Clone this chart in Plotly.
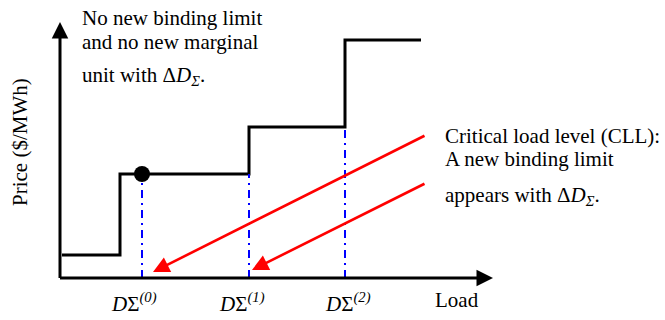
import plotly.graph_objects as go

# Supply-curve steps (load breakpoints and price levels, arbitrary units)
step_load = [2, 60, 189, 285, 361]
step_price = [23, 104, 151, 238, 238]

# Current operating point
op_load = [82]
op_price = [104]

# Critical load levels and the price level just below each one
cll_load = [82, 189, 285]
cll_price = [104, 104, 151]
cll_labels = ["<i>D</i>Σ<sup><i>(0)</i></sup>",
              "<i>D</i>Σ<sup><i>(1)</i></sup>",
              "<i>D</i>Σ<sup><i>(2)</i></sup>"]

# Pointer arrows from the CLL note to the critical load levels
arrow_tail_load = [366, 366]
arrow_tail_price = [143, 95]
arrow_head_load = [93, 192]
arrow_head_price = [6, 8]

FONT = "Liberation Serif, Times New Roman, serif"
FS = 21

fig = go.Figure()

fig.add_trace(go.Scatter(x=step_load, y=step_price, mode="lines",
                         line=dict(color="black", width=3, shape="hv"),
                         hoverinfo="skip"))

for xl, yp in zip(cll_load, cll_price):
    fig.add_trace(go.Scatter(x=[xl, xl], y=[0, yp], mode="lines",
                             line=dict(color="#0000FF", width=2,
                                       dash="8px,5px,2px,5px"),
                             hoverinfo="skip"))

fig.add_trace(go.Scatter(x=op_load, y=op_price, mode="markers",
                         marker=dict(color="black", size=16),
                         hoverinfo="skip"))

annotations = []

# Axes drawn as arrows
annotations.append(dict(x=0, y=256, ax=0, ay=-1.5, xref="x", yref="y",
                        axref="x", ayref="y", text="", showarrow=True,
                        arrowhead=2, arrowsize=1.1, arrowwidth=3,
                        arrowcolor="black"))
annotations.append(dict(x=433, y=0, ax=-1.5, ay=0, xref="x", yref="y",
                        axref="x", ayref="y", text="", showarrow=True,
                        arrowhead=2, arrowsize=1.1, arrowwidth=3,
                        arrowcolor="black"))

for tx, ty, hx, hy in zip(arrow_tail_load, arrow_tail_price,
                          arrow_head_load, arrow_head_price):
    annotations.append(dict(x=hx, y=hy, ax=tx, ay=ty, xref="x", yref="y",
                            axref="x", ayref="y", text="", showarrow=True,
                            arrowhead=2, arrowsize=1.25, arrowwidth=2.6,
                            arrowcolor="#FF0000"))

# Critical load level labels
label_shift = [-8, -7, 3]
for xl, lab, sh in zip(cll_load, cll_labels, label_shift):
    annotations.append(dict(x=xl, y=-24, xref="x", yref="y", text=lab,
                            showarrow=False, xanchor="center", yanchor="middle",
                            xshift=sh, font=dict(family=FONT, size=FS, color="black")))

annotations.append(dict(x=397, y=-22, xref="x", yref="y", text="Load",
                        showarrow=False, xanchor="center", yanchor="middle",
                        font=dict(family=FONT, size=FS, color="black")))
annotations.append(dict(x=-40, y=136, xref="x", yref="y", text="Price ($/MWh)",
                        showarrow=False, textangle=-90, xanchor="center",
                        yanchor="middle",
                        font=dict(family=FONT, size=FS, color="black")))

left_note = [("No new binding limit", 260),
             ("and no new marginal", 236),
             ("unit with Δ<i>D</i><sub><i>Σ</i></sub>.", 202)]
for txt, yp in left_note:
    annotations.append(dict(x=20, y=yp, xref="x", yref="y", text=txt,
                            showarrow=False, xanchor="left", yanchor="middle",
                            font=dict(family=FONT, size=FS, color="black")))

right_note = [("Critical load level (CLL):", 142),
              ("A new binding limit", 119),
              ("appears with Δ<i>D</i><sub><i>Σ</i></sub>.", 82)]
for txt, yp in right_note:
    annotations.append(dict(x=383, y=yp, xref="x", yref="y", text=txt,
                            showarrow=False, xanchor="left", yanchor="middle",
                            font=dict(family=FONT, size=FS, color="black")))

fig.update_layout(
    width=665, height=320,
    margin=dict(l=0, r=0, t=0, b=0),
    paper_bgcolor="white", plot_bgcolor="white",
    showlegend=False,
    xaxis=dict(range=[-60, 605], visible=False, fixedrange=True),
    yaxis=dict(range=[-42, 278], visible=False, fixedrange=True),
    annotations=annotations,
)

fig.write_html("out.html")
